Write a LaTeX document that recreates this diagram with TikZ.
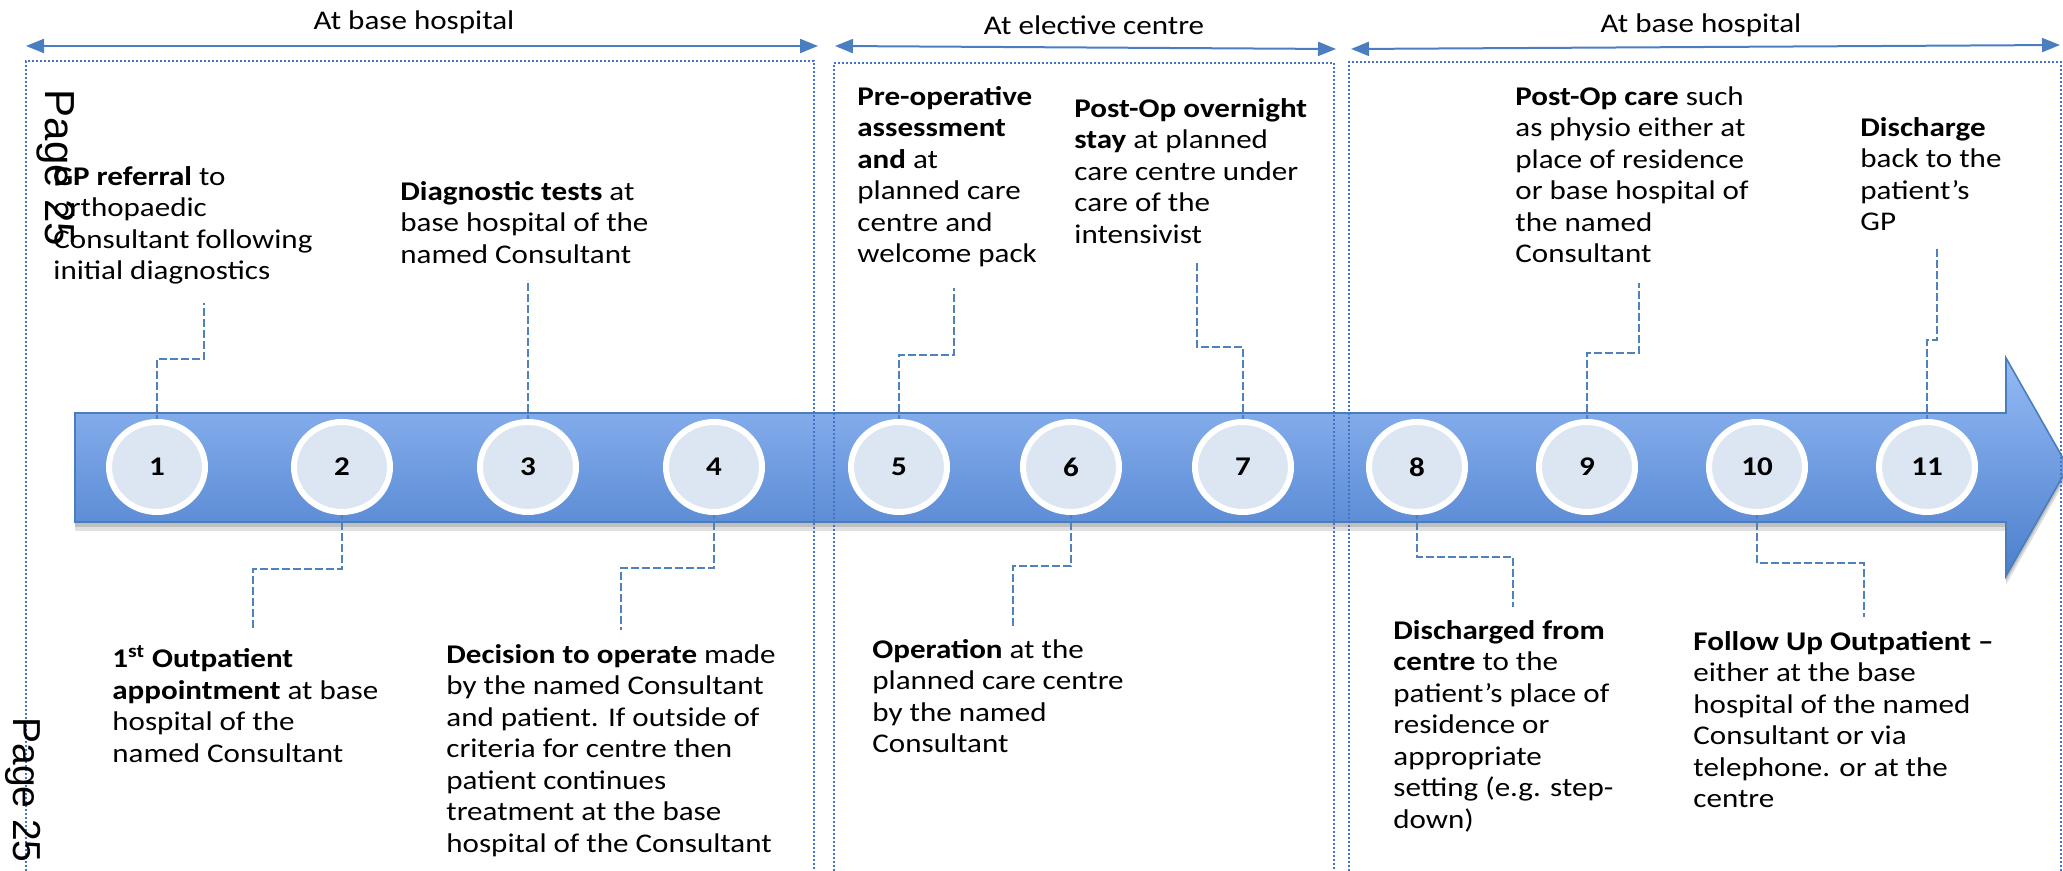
\documentclass[tikz,border=0pt]{standalone}
\usepackage{fontspec}
\setmainfont{Carlito}[FakeStretch=1.15]
\newfontfamily\arialf{Liberation Sans}
\usetikzlibrary{arrows.meta,shapes.geometric}
\definecolor{arrtop}{RGB}{148,186,245}
\definecolor{arrbot}{RGB}{76,127,204}
\definecolor{arredge}{RGB}{74,126,187}
\definecolor{circfill}{RGB}{220,230,242}
\definecolor{connblue}{RGB}{79,129,189}
\definecolor{boxblue}{RGB}{68,114,196}
\definecolor{spanblue}{RGB}{74,126,193}
\begin{document}
\begin{tikzpicture}[x=0.5pt,y=-0.5pt,
  lbl/.style={anchor=north west, align=left, inner sep=0pt, font=\fontsize{13.5pt}{15.75pt}\selectfont},
  head/.style={inner sep=0pt, font=\fontsize{13.5pt}{15.75pt}\selectfont},
  stepnum/.style={ellipse, minimum width=48pt, minimum height=45pt, inner sep=0pt,
     fill=circfill, draw=white, line width=3pt, font=\bfseries\fontsize{13.5pt}{15pt}\selectfont},
  conn/.style={draw=connblue, line width=0.65pt, dash pattern=on 4pt off 1.5pt},
  zone/.style={draw=boxblue, line width=1pt, dash pattern=on 1pt off 1pt},
  span/.style={draw=spanblue, line width=1pt, {Triangle[length=9pt,width=7pt]}-{Triangle[length=9pt,width=7pt]}},
  pagemark/.style={rotate=-90, inner sep=0pt}
]
\useasboundingbox (0,0) rectangle (2063,871);

% shadow of the big arrow
\fill[black, opacity=0.12, shift={(0,9)}] (75,413) -- (2006,413) -- (2006,358) -- (2068,467) -- (2006,576) -- (2006,522) -- (75,522) -- cycle;
\fill[black, opacity=0.15, shift={(0,5)}] (75,413) -- (2006,413) -- (2006,358) -- (2068,467) -- (2006,576) -- (2006,522) -- (75,522) -- cycle;
% big arrow
\path[draw=arredge, line width=0.8pt, top color=arrtop, bottom color=arrbot]
  (75,413) -- (2006,413) -- (2006,358) -- (2068,467) -- (2006,576) -- (2006,522) -- (75,522) -- cycle;

% zone frames
\draw[zone] (26,875) -- (26,61) -- (814,61) -- (814,875);
\draw[zone] (834,875) -- (834,63) -- (1334,63) -- (1334,875);
\draw[zone] (1349,875) -- (1349,62) -- (2061,62) -- (2061,875);

% span arrows and headings
\coordinate (s1a) at (26,46);   \coordinate (s1b) at (818,46);
\coordinate (s2a) at (835,46);  \coordinate (s2b) at (1336,49);
\coordinate (s3a) at (1351,49); \coordinate (s3b) at (2060,45);
\draw[span] (s1a) -- (s1b);
\draw[span] (s2a) -- (s2b);
\draw[span] (s3a) -- (s3b);
\node[head] (h1) at (414,22) {At base hospital};
\node[head] (h2) at (1094,25) {At elective centre};
\node[head] (h3) at (1701,25) {At base hospital};

% connector end points
\coordinate (j1) at (204,359);  \coordinate (e1) at (204,303);
\coordinate (e3) at (528,280);
\coordinate (j5) at (954,355);  \coordinate (e5) at (954,288);
\coordinate (j7) at (1197,347); \coordinate (e7) at (1197,263);
\coordinate (j9) at (1639,353); \coordinate (e9) at (1639,283);
\coordinate (j11) at (1937,340); \coordinate (e11) at (1937,249);
\coordinate (j2) at (253,569);  \coordinate (e2) at (253,630);
\coordinate (j4) at (621,568);  \coordinate (e4) at (621,630);
\coordinate (j6) at (1013,566); \coordinate (e6) at (1013,627);
\coordinate (j8) at (1513,557); \coordinate (e8) at (1513,607);
\coordinate (j10) at (1864,563); \coordinate (e10) at (1864,617);

% circle positions
\path (157,467) coordinate (p1) (342,467) coordinate (p2) (528,467) coordinate (p3)
      (714,467) coordinate (p4) (899,467) coordinate (p5) (1071,467) coordinate (p6)
      (1243,467) coordinate (p7) (1417,467) coordinate (p8) (1587,467) coordinate (p9)
      (1757,467) coordinate (p10) (1927,467) coordinate (p11);

\draw[conn] (p1) |- (j1) -- (e1);
\draw[conn] (p3) -- (e3);
\draw[conn] (p5) |- (j5) -- (e5);
\draw[conn] (p7) |- (j7) -- (e7);
\draw[conn] (p9) |- (j9) -- (e9);
\draw[conn] (p11) |- (j11) -- (e11);
\draw[conn] (p2) |- (j2) -- (e2);
\draw[conn] (p4) |- (j4) -- (e4);
\draw[conn] (p6) |- (j6) -- (e6);
\draw[conn] (p8) |- (j8) -- (e8);
\draw[conn] (p10) |- (j10) -- (e10);

\foreach \i in {1,...,11} {\node[stepnum] (c\i) at (p\i) {\i};}

% labels above
\node[lbl] (t1) at (53,166) {{\bfseries GP referral} to\\orthopaedic\\Consultant following\\initial diagnostics};
\node[lbl] (t3) at (400,181) {{\bfseries Diagnostic tests} at\\base hospital of the\\named Consultant};
\node[lbl] (t5) at (857,86) {{\bfseries Pre-operative}\\{\bfseries assessment}\\{\bfseries and} at\\planned care\\centre and\\welcome pack};
\node[lbl] (t7) at (1074,98) {{\bfseries Post-Op overnight}\\{\bfseries stay} at planned\\care centre under\\care of the\\intensivist};
\node[lbl] (t9) at (1515,86) {{\bfseries Post-Op care} such\\as physio either at\\place of residence\\or base hospital of\\the named\\Consultant};
\node[lbl] (t11) at (1860,117) {{\bfseries Discharge}\\back to the\\patient’s\\GP};
% labels below
\node[lbl] (t2) at (112,645) {{\bfseries 1\textsuperscript{st} Outpatient}\\{\bfseries appointment} at base\\hospital of the\\named Consultant};
\node[lbl] (t4) at (446,644) {{\bfseries Decision to operate} made\\by the named Consultant\\and patient. If outside of\\criteria for centre then\\patient continues\\treatment at the base\\hospital of the Consultant};
\node[lbl] (t6) at (872,639) {{\bfseries Operation} at the\\planned care centre\\by the named\\Consultant};
\node[lbl] (t8) at (1393,620) {{\bfseries Discharged from}\\{\bfseries centre} to the\\patient’s place of\\residence or\\appropriate\\setting (e.g. step-\\down)};
\node[lbl] (t10) at (1693,631) {{\bfseries Follow Up Outpatient –}\\either at the base\\hospital of the named\\Consultant or via\\telephone. or at the\\centre};

% page marks
\node[pagemark, font=\arialf\fontsize{21pt}{24pt}\selectfont] (pg1) at (56,168) {Page 25};
\node[pagemark, font=\arialf\fontsize{19.5pt}{22pt}\selectfont] (pg2) at (23,790) {Page 25};
\end{tikzpicture}
\end{document}
